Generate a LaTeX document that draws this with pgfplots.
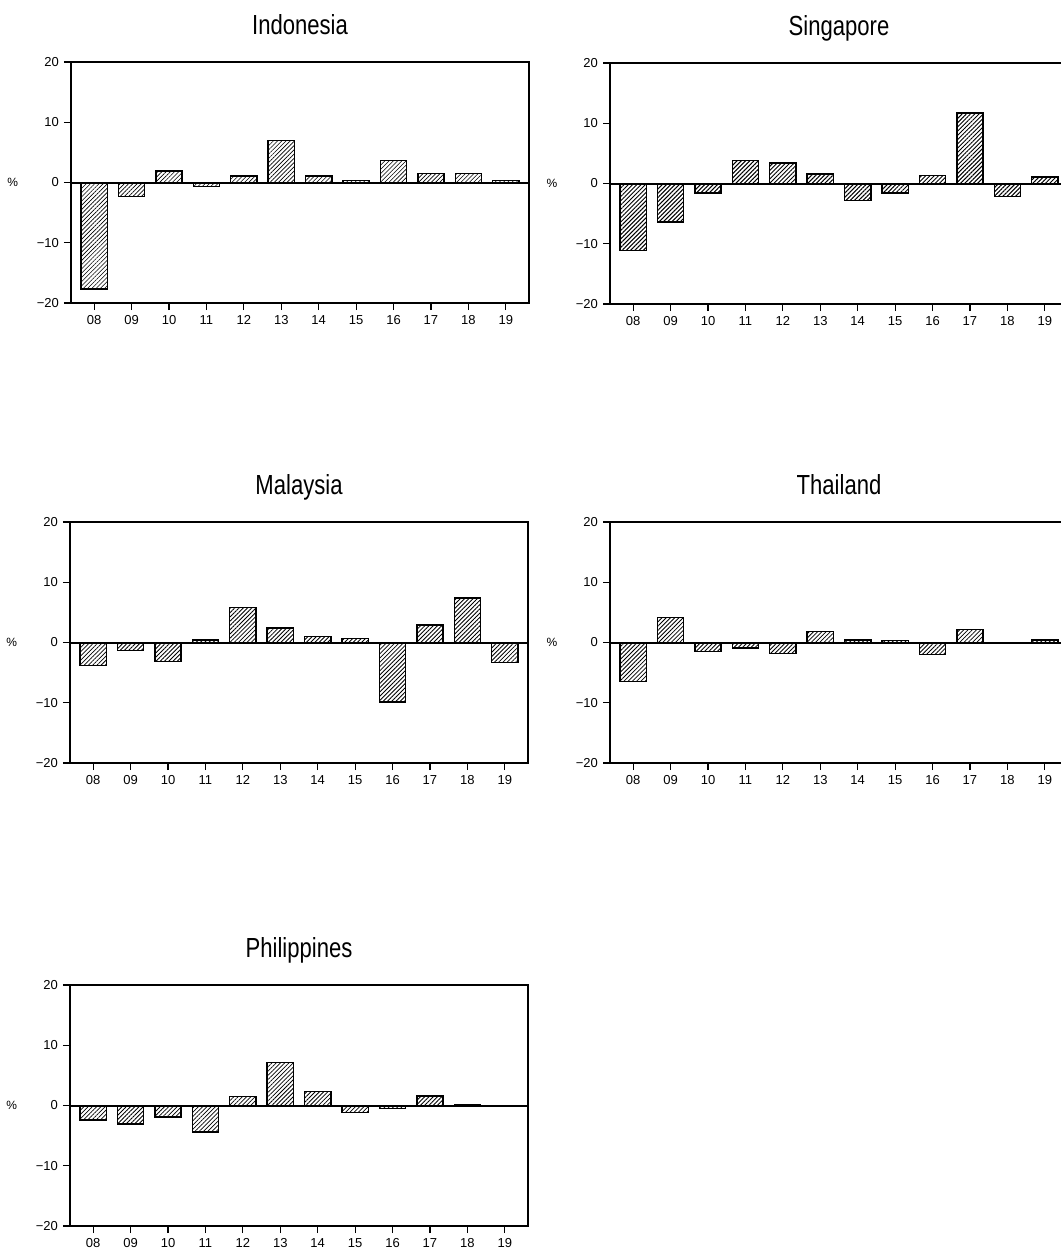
\documentclass[border=0pt]{standalone}
\usepackage{fontspec}
\setmainfont{Liberation Sans}
\newfontfamily\titlefont[FakeStretch=0.8]{Liberation Sans}
\usepackage{pgfplots}
\pgfplotsset{compat=1.18}
\usepackage{pgfplotstable}
\usetikzlibrary{patterns.meta}

% annual change, %, years 08..19 at x = 0..11
\pgfplotstableread{
x  ind    sgp    mys   tha   phl
0  -17.7  -11.1  -3.8  -6.5  -2.4
1  -2.3   -6.4   -1.3   4.2  -3.1
2   1.9   -1.6   -3.2  -1.5  -1.9
3  -0.7    3.8    0.4  -0.9  -4.4
4   1.1    3.4    5.8  -1.8   1.5
5   7.0    1.6    2.4   1.8   7.1
6   1.05  -2.8    1.0   0.4   2.3
7   0.3   -1.6    0.7   0.3  -1.2
8   3.7    1.3   -9.9  -2.0  -0.5
9   1.5   11.7    2.9   2.2   1.6
10  1.5   -2.2    7.4  -0.1   0.1
11  0.3    1.1   -3.3   0.4   0.0
}\datatable

\pgfplotsset{
  panel/.style={
    scale only axis, width=229pt, height=120.5pt, anchor=north west,
    xmin=-0.62, xmax=11.62, ymin=-20, ymax=20,
    xtick={0,...,11}, xticklabels={08,09,10,11,12,13,14,15,16,17,18,19},
    ytick={-20,-10,0,10,20}, yticklabels={−20,−10,0,10,20},
    tick align=outside, tick pos=left, major tick length=3.5pt,
    tick style={black, line width=0.6pt},
    axis line style={black, line width=1pt},
    ticklabel style={font=\fontsize{6.5}{7}\selectfont},
    yticklabel style={xshift=1pt},
    xticklabel style={yshift=1pt},
    title style={font=\titlefont\fontsize{13.8}{15}\selectfont, at={(0.5,1)}, anchor=base, yshift=8pt},
    ylabel={\%},
    ylabel style={font=\fontsize{6}{7}\selectfont, rotate=-90, at={(axis description cs:-0.127,0.5)}, anchor=center},
    extra y ticks={0}, extra y tick labels={},
    extra y tick style={grid=major, major grid style={black, line width=1pt}, tick style={draw=none}},
    ybar, bar width=0.7,
  },
  hatch/.style={draw=black, line width=0.7pt, pattern={Lines[angle=45,distance=1.5pt,line width=#1]}},
}

\begin{document}
\begin{tikzpicture}
\begin{axis}[panel, at={(35.5pt,-31pt)}, title={Indonesia}]
  \addplot[hatch=0.3pt] table[x=x, y=ind] {\datatable};
\end{axis}
\begin{axis}[panel, at={(305pt,-31.5pt)}, title={Singapore}]
  \addplot[hatch=0.5pt] table[x=x, y=sgp] {\datatable};
\end{axis}
\begin{axis}[panel, at={(35pt,-261pt)}, title={Malaysia}]
  \addplot[hatch=0.42pt] table[x=x, y=mys] {\datatable};
\end{axis}
\begin{axis}[panel, at={(305pt,-261pt)}, title={Thailand}]
  \addplot[hatch=0.42pt] table[x=x, y=tha] {\datatable};
\end{axis}
\begin{axis}[panel, at={(35pt,-492.5pt)}, title={Philippines}]
  \addplot[hatch=0.38pt] table[x=x, y=phl] {\datatable};
\end{axis}
\pgfresetboundingbox
\useasboundingbox (0,0) rectangle (530.5pt,-625pt);
\end{tikzpicture}
\end{document}
